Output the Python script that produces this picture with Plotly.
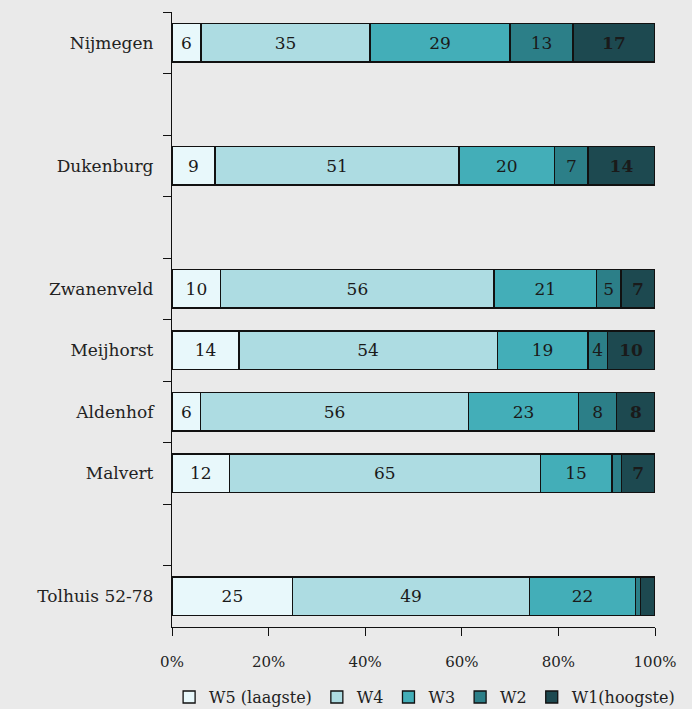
import plotly.graph_objects as go

# Categories (blank entries are the empty gaps in the original chart)
wijken = ['Nijmegen', ' ', 'Dukenburg', '  ', 'Zwanenveld', 'Meijhorst',
          'Aldenhof', 'Malvert', '   ', 'Tolhuis 52-78']

w5 = [6, None, 9, None, 10, 14, 6, 12, None, 25]
w4 = [35, None, 51, None, 56, 54, 56, 65, None, 49]
w3 = [29, None, 20, None, 21, 19, 23, 15, None, 22]
w2 = [13, None, 7, None, 5, 4, 8, 2, None, 1]
w1 = [17, None, 14, None, 7, 10, 8, 7, None, 3]

series_names = ['W5 (laagste)', 'W4', 'W3', 'W2', 'W1(hoogste)']
series_values = [w5, w4, w3, w2, w1]
series_colors = ['#E8F8FB', '#ADDCE2', '#43AEB8', '#2C7F88', '#1D4950']

x_ticks = [0, 20, 40, 60, 80, 100]

SERIF = 'DejaVu Serif, Liberation Serif, serif'
BG = '#EAEAEA'
INK = '#222222'


def label(v):
    # small segments carry no label in the original
    if v is None or v < 4:
        return ''
    return str(v)


fig = go.Figure()

for name, vals, color in zip(series_names, series_values, series_colors):
    fig.add_trace(go.Bar(
        y=wijken,
        x=vals,
        name=name,
        orientation='h',
        marker=dict(color=color, line=dict(color='#111111', width=1.3)),
        text=[label(v) for v in vals],
        textposition='inside',
        insidetextanchor='middle',
        textangle=0,
        textfont=dict(family=SERIF, size=17, color='#1a1a1a',
                      weight='bold' if name.startswith('W1') else 'normal'),
        hoverinfo='x+name',
    ))

fig.update_layout(
    width=692,
    height=709,
    barmode='stack',
    barnorm='percent',
    bargap=0.37,
    plot_bgcolor=BG,
    paper_bgcolor=BG,
    font=dict(family=SERIF, size=15, color=INK),
    margin=dict(l=172, r=37, t=12, b=82, autoexpand=False),
    legend=dict(
        orientation='h',
        traceorder='normal',
        x=-0.006,
        xanchor='left',
        y=-0.114,
        yanchor='middle',
        font=dict(family=SERIF, size=16, color=INK),
        itemwidth=30,
        bgcolor='rgba(0,0,0,0)',
    ),
    xaxis=dict(
        range=[0, 100],
        tickvals=x_ticks,
        ticktext=[f'{t}%' for t in x_ticks],
        ticks='outside',
        ticklen=8,
        tickcolor='#111111',
        showline=True,
        linecolor='#111111',
        linewidth=1.3,
        showgrid=False,
        zeroline=False,
        automargin=False,
        ticklabelstandoff=13,
        tickfont=dict(family=SERIF, size=15, color=INK),
    ),
    yaxis=dict(
        type='category',
        categoryorder='array',
        categoryarray=wijken,
        autorange='reversed',
        ticks='outside',
        tickson='boundaries',
        ticklen=8,
        tickcolor='#111111',
        showline=True,
        linecolor='#111111',
        linewidth=1.3,
        showgrid=False,
        automargin=False,
        ticklabelstandoff=14,
        tickfont=dict(family=SERIF, size=17, color=INK),
    ),
)

# drop the default 8px page margin so the figure sits at the window's corner
fig.write_html(
    'out.html',
    config={'displayModeBar': False},
    post_script="document.body.style.margin='0';"
                "document.body.style.background='#EAEAEA';",
)
